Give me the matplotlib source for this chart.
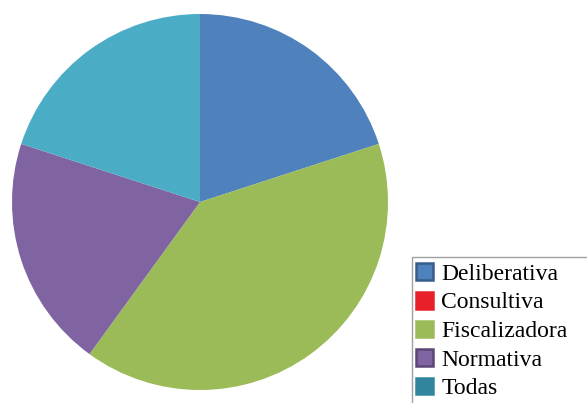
import matplotlib
matplotlib.use("Agg")
import matplotlib.pyplot as plt
from matplotlib.patches import Patch, Rectangle

labels = ["Deliberativa", "Consultiva", "Fiscalizadora", "Normativa", "Todas"]
values = [20, 0, 40, 20, 20]
slice_colors = ["#4F81BD", "#E8202A", "#9BBB59", "#8064A2", "#4BACC6"]
legend_colors = ["#4F81BD", "#E8202A", "#9BBB59", "#8064A2", "#31859C"]
legend_edges = ["#385D8A", "#E8202A", "#9BBB59", "#5C4776", "#31859C"]

W, H = 587, 403
fig = plt.figure(figsize=(W / 100, H / 100), dpi=100)

ax = fig.add_axes([12 / W, 1 - 390 / H, 376 / W, 376 / H])
ax.pie(values, colors=slice_colors, startangle=90, counterclock=False,
       wedgeprops=dict(linewidth=0))
ax.set_xlim(-1, 1)
ax.set_ylim(-1, 1)
ax.set_aspect("equal")

# legend frame runs off the image edges
fig.patches.append(Rectangle((412 / W, -0.1), 0.5, 1 - 257 / H + 0.1,
                             transform=fig.transFigure, facecolor="white",
                             edgecolor="#A0A0A0", linewidth=1))

handles = [Patch(facecolor=c, edgecolor=e, linewidth=1.8)
           for c, e in zip(legend_colors, legend_edges)]
fig.legend(handles, labels, loc="upper left", bbox_to_anchor=(414 / W, 1 - 261 / H),
           frameon=False, prop={"family": "Liberation Serif", "size": 17},
           handlelength=0.7, handleheight=0.7, handletextpad=0.35,
           labelspacing=0.3, borderpad=0.1, borderaxespad=0)

fig.savefig("out.png", dpi=100)
